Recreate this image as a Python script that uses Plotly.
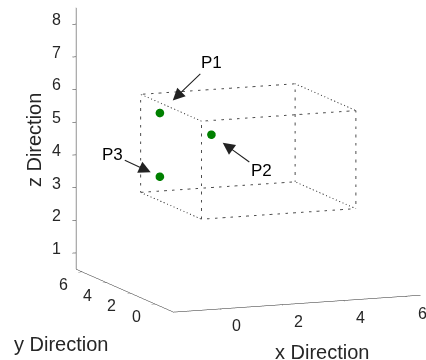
import numpy as np
import plotly.graph_objects as go

# ---- data ----
box_x = [0, 5]
box_y = [0, 5]
box_z = [3, 6]
pt_names = ["P1", "P2", "P3"]
pt_x = [0.5, 1.5, 0.5]
pt_y = [4.7, 3.0, 4.7]
pt_z = [5.45, 5.0, 3.5]
x_ticks = [0, 2, 4, 6]
y_ticks = [0, 2, 4, 6]
z_ticks = [1, 2, 3, 4, 5, 6, 7, 8]
x_range = [-1.5, 6.5]
y_range = [-1.5, 6.5]
z_range = [0.5, 8.5]

# box edges (12) from corner lists
ex, ey, ez = [], [], []
corners = [(x, y, z) for x in box_x for y in box_y for z in box_z]
for i, a in enumerate(corners):
    for b in corners[i + 1:]:
        if sum(1 for k in range(3) if a[k] != b[k]) == 1:
            ex += [a[0], b[0], None]
            ey += [a[1], b[1], None]
            ez += [a[2], b[2], None]

fig = go.Figure()
fig.add_trace(go.Scatter3d(x=ex, y=ey, z=ez, mode="lines",
                           line=dict(color="#4d4d4d", width=2, dash="dot"),
                           hoverinfo="skip", showlegend=False))
fig.add_trace(go.Scatter3d(x=pt_x, y=pt_y, z=pt_z, mode="markers",
                           marker=dict(color="#008000", size=5),
                           showlegend=False))

# camera: view direction, zoom (via aspect scale) and screen shift
az, el, dist = np.radians(21.5), np.radians(10), 2.0
d = np.array([-np.sin(az) * np.cos(el), -np.cos(az) * np.cos(el), np.sin(el)])
fwd = -d
right = np.cross(fwd, [0, 0, 1]); right /= np.linalg.norm(right)
upv = np.cross(right, fwd)
px_per_unit = 178.0
shift_r, shift_u = 34.9, 28.2
C = (-shift_r * right - shift_u * upv) / px_per_unit
E = C + d * dist
k = 1.475

axis_common = dict(showbackground=False, showgrid=False, zeroline=False,
                   showline=True, linecolor="#262626", linewidth=1,
                   ticks="outside", tickcolor="#262626", ticklen=4,
                   showspikes=False, title=dict(text=""), showticklabels=False)

tick_font = dict(family="Liberation Sans", size=16, color="#262626")
scene_anns = []
# tick labels placed at the tick positions on each axis edge
for v in x_ticks:
    scene_anns.append(dict(x=v, y=y_range[0], z=z_range[0], text=str(v), showarrow=False,
                           xanchor="center", yanchor="middle", xshift=17, yshift=-17,
                           font=tick_font))
for v in y_ticks:
    scene_anns.append(dict(x=x_range[0], y=v, z=z_range[0], text=str(v), showarrow=False,
                           xanchor="center", yanchor="middle", xshift=-19, yshift=-12.5,
                           font=tick_font))
for v in z_ticks:
    scene_anns.append(dict(x=x_range[0], y=y_range[1], z=v, text=str(v), showarrow=False,
                           xanchor="center", yanchor="middle", xshift=-20, yshift=4.5,
                           font=tick_font))

ann_off = {"P1": (52, -50, 18), "P2": (50, 36, 14), "P3": (-47, -22, 10)}
for n, x, y, z in zip(pt_names, pt_x, pt_y, pt_z):
    ax_, ay_, so = ann_off[n]
    scene_anns.append(dict(x=x, y=y, z=z, text=n, showarrow=True, ax=ax_, ay=ay_,
                           standoff=so, arrowhead=2, arrowsize=2.2, arrowwidth=1.1,
                           arrowcolor="#222222",
                           font=dict(family="Liberation Sans", size=17, color="#000000")))

title_font = dict(family="Liberation Sans", size=20, color="#262626")
fig.update_layout(
    width=426, height=360, margin=dict(l=0, r=0, t=0, b=0),
    paper_bgcolor="white",
    scene=dict(
        domain=dict(x=[0, 1], y=[0, 1]),
        xaxis=dict(axis_common, range=x_range, tickvals=x_ticks),
        yaxis=dict(axis_common, range=y_range, tickvals=y_ticks),
        zaxis=dict(axis_common, range=z_range, tickvals=z_ticks),
        aspectmode="manual",
        aspectratio=dict(x=k, y=k, z=k),
        camera=dict(eye=dict(x=E[0], y=E[1], z=E[2]), up=dict(x=0, y=0, z=1),
                    center=dict(x=C[0], y=C[1], z=C[2]),
                    projection=dict(type="orthographic")),
        annotations=scene_anns,
    ),
    annotations=[
        dict(text="x Direction", xref="paper", yref="paper", x=0.755, y=0.022,
             xanchor="center", yanchor="middle", showarrow=False, font=title_font),
        dict(text="y Direction", xref="paper", yref="paper", x=0.144, y=0.044,
             xanchor="center", yanchor="middle", showarrow=False, font=title_font),
        dict(text="z Direction", xref="paper", yref="paper", x=0.080, y=0.611,
             xanchor="center", yanchor="middle", textangle=-90, showarrow=False,
             font=title_font),
    ],
)
fig.write_html("out.html", config={"displayModeBar": False},
               post_script="document.body.style.margin='0';")
